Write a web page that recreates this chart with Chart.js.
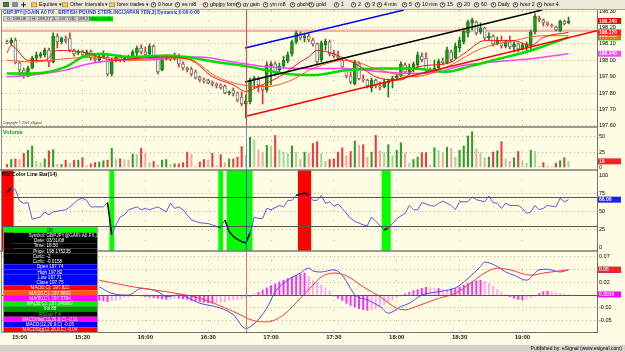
<!DOCTYPE html>
<html>
<head>
<meta charset="utf-8">
<title>GBPJPY 2 min</title>
<script src="https://cdn.jsdelivr.net/npm/chart.js@4.4.1/dist/chart.umd.min.js"></script>
<style>
  html, body { margin: 0; padding: 0; background: #fffde4; overflow: hidden; }
  canvas { display: block; }
</style>
</head>
<body>
<canvas id="chart" width="625" height="352"></canvas>
<script>
// 2 minute bars, the first one at 14:54
const firstBarTime = '14:54';
const barMinutes = 2;
const tickLabels = ['15:00', '15:30', '16:00', '16:30', '17:00', '17:30', '18:00', '18:30', '19:00'];

const opens = [
  198.112, 198.106, 198.124, 197.984, 197.941, 197.904, 197.953, 198.014, 198.026, 198.033,
  198.063, 197.990, 198.148, 198.112, 198.130, 198.136, 198.063, 198.045, 198.051, 198.033,
  198.051, 198.014, 198.002, 198.020, 198.020, 197.917, 198.002, 198.020, 198.002, 198.014,
  198.008, 198.045, 198.075, 198.051, 198.039, 198.087, 198.020, 197.941, 198.008, 198.020,
  198.008, 198.020, 197.978, 197.953, 197.947, 197.929, 197.898, 197.880, 197.880, 197.868,
  197.856, 197.850, 197.843, 197.801, 197.819, 197.801, 197.776, 197.734, 197.746, 197.880,
  197.886, 197.843, 197.819, 197.965, 197.978, 197.941, 197.965, 197.996, 198.039, 198.112,
  198.161, 198.136, 198.148, 198.124, 198.100, 198.002, 198.094, 198.112, 198.039, 198.026,
  198.002, 197.941, 197.904, 197.856, 197.978, 197.886, 197.880, 197.831, 197.880, 197.843,
  197.837, 197.862, 197.874, 197.892, 197.904, 197.972, 197.929, 197.953, 197.972, 198.026,
  198.014, 197.941, 197.935, 197.953, 197.996, 197.984, 198.051, 198.014, 198.075, 198.112,
  198.167, 198.228, 198.234, 198.173, 198.197, 198.136, 198.148, 198.100, 198.124, 198.087,
  198.112, 198.081, 198.100, 198.069, 198.081, 198.094, 198.173, 198.258, 198.246, 198.228,
  198.216, 198.203, 198.179, 198.240, 198.228
];
const highs = [
  198.124, 198.136, 198.136, 197.990, 197.953, 197.965, 198.026, 198.051, 198.051, 198.075,
  198.075, 198.167, 198.161, 198.142, 198.148, 198.167, 198.069, 198.063, 198.063, 198.063,
  198.063, 198.026, 198.033, 198.057, 198.033, 198.014, 198.033, 198.033, 198.026, 198.033,
  198.063, 198.087, 198.094, 198.081, 198.100, 198.094, 198.026, 198.020, 198.033, 198.033,
  198.045, 198.039, 197.990, 197.959, 197.959, 197.941, 197.904, 197.892, 197.886, 197.874,
  197.862, 197.856, 197.850, 197.813, 197.831, 197.807, 197.807, 197.789, 197.892, 197.904,
  197.898, 197.850, 197.990, 197.990, 197.990, 197.984, 198.026, 198.051, 198.124, 198.179,
  198.173, 198.167, 198.161, 198.136, 198.106, 198.118, 198.130, 198.124, 198.063, 198.057,
  198.014, 197.947, 197.929, 198.002, 197.990, 197.911, 197.886, 197.892, 197.886, 197.868,
  197.886, 197.886, 197.904, 197.917, 197.990, 197.984, 197.978, 197.990, 198.051, 198.045,
  198.045, 197.953, 198.002, 198.008, 198.014, 198.081, 198.063, 198.106, 198.142, 198.185,
  198.246, 198.258, 198.240, 198.228, 198.203, 198.167, 198.155, 198.142, 198.148, 198.124,
  198.148, 198.112, 198.106, 198.106, 198.112, 198.185, 198.283, 198.270, 198.252, 198.234,
  198.222, 198.209, 198.246, 198.246, 198.264
];
const lows = [
  198.100, 198.094, 197.978, 197.911, 197.892, 197.898, 197.947, 197.990, 198.014, 198.020,
  197.959, 197.984, 198.075, 198.100, 198.106, 198.051, 198.026, 198.033, 198.026, 198.020,
  198.002, 197.990, 197.990, 198.014, 197.904, 197.904, 197.990, 197.990, 197.990, 197.996,
  198.002, 198.026, 198.039, 198.026, 198.026, 198.002, 197.917, 197.935, 198.002, 197.996,
  198.002, 197.959, 197.941, 197.929, 197.904, 197.886, 197.868, 197.862, 197.856, 197.843,
  197.831, 197.825, 197.795, 197.789, 197.782, 197.746, 197.721, 197.648, 197.734, 197.831,
  197.807, 197.734, 197.807, 197.850, 197.911, 197.923, 197.953, 197.984, 198.026, 198.100,
  198.124, 198.112, 198.112, 198.087, 197.972, 197.990, 198.063, 198.026, 198.014, 198.002,
  197.953, 197.892, 197.856, 197.850, 197.880, 197.868, 197.831, 197.807, 197.831, 197.819,
  197.831, 197.776, 197.831, 197.880, 197.898, 197.917, 197.911, 197.929, 197.953, 197.990,
  197.929, 197.923, 197.923, 197.947, 197.972, 197.978, 197.990, 198.008, 198.051, 198.100,
  198.142, 198.185, 198.155, 198.161, 198.124, 198.124, 198.087, 198.094, 198.075, 198.075,
  198.069, 198.051, 198.051, 198.063, 198.051, 198.069, 198.161, 198.234, 198.209, 198.209,
  198.203, 198.179, 198.173, 198.216, 198.222
];
const closes = [
  198.106, 198.124, 197.984, 197.941, 197.917, 197.953, 198.014, 198.033, 198.039, 198.063,
  197.990, 198.148, 198.112, 198.136, 198.118, 198.063, 198.039, 198.051, 198.033, 198.051,
  198.014, 198.002, 198.020, 198.039, 197.917, 198.002, 198.020, 198.002, 198.014, 198.002,
  198.051, 198.075, 198.051, 198.033, 198.087, 198.014, 197.929, 198.008, 198.020, 198.008,
  198.026, 197.978, 197.953, 197.941, 197.917, 197.892, 197.880, 197.874, 197.862, 197.856,
  197.843, 197.831, 197.801, 197.807, 197.795, 197.758, 197.734, 197.752, 197.880, 197.892,
  197.850, 197.819, 197.972, 197.978, 197.929, 197.965, 198.002, 198.033, 198.112, 198.167,
  198.136, 198.148, 198.124, 198.100, 197.990, 198.106, 198.118, 198.039, 198.026, 198.014,
  197.959, 197.904, 197.868, 197.990, 197.886, 197.880, 197.843, 197.880, 197.843, 197.837,
  197.868, 197.874, 197.892, 197.904, 197.978, 197.929, 197.959, 197.978, 198.033, 198.002,
  197.941, 197.929, 197.953, 197.996, 197.984, 198.063, 198.002, 198.087, 198.124, 198.179,
  198.234, 198.246, 198.167, 198.197, 198.136, 198.148, 198.100, 198.124, 198.087, 198.112,
  198.081, 198.100, 198.069, 198.094, 198.100, 198.173, 198.270, 198.246, 198.228, 198.216,
  198.209, 198.185, 198.240, 198.222, 198.240
];
const volumes = [
  5, 13, 14, 13, 23, 28, 35, 10, 8, 14,
  27, 29, 5, 5, 12, 7, 12, 12, 16, 3,
  6, 8, 9, 11, 12, 31, 13, 14, 13, 12,
  22, 21, 31, 23, 8, 10, 4, 12, 13, 5,
  6, 6, 8, 25, 22, 2, 9, 13, 12, 23,
  3, 21, 8, 14, 14, 17, 34, 20, 49, 45,
  29, 25, 36, 35, 52, 29, 25, 23, 35, 25,
  13, 25, 23, 39, 42, 23, 10, 13, 14, 25,
  32, 19, 26, 43, 36, 37, 17, 25, 52, 27,
  24, 37, 19, 28, 40, 24, 7, 13, 17, 24,
  24, 4, 32, 28, 25, 33, 31, 17, 28, 35,
  51, 58, 30, 24, 16, 17, 25, 27, 42, 14,
  10, 16, 26, 10, 7, 28, 26, 2, 8, 2,
  1, 7, 11, 16, 10
];

// moving averages, read at a few bars each
const ma10Bars = [0, 1, 5, 9, 12, 18, 26, 30, 38, 44, 49, 54, 57, 60, 65, 70, 72, 74, 83, 89, 94, 98, 105, 109, 114, 121, 125, 128, 134];
const ma10 = [198.045, 198.09, 198.00, 198.00, 198.06, 198.05, 198.00, 198.01, 198.02, 198.00, 197.90, 197.85, 197.81, 197.84, 197.90, 197.99, 198.02, 198.06, 197.98, 197.89, 197.88, 197.96, 197.98, 198.04, 198.12, 198.12, 198.09, 198.14, 198.17];
const ma20Bars = [0, 6, 14, 22, 30, 43, 50, 56, 62, 68, 73, 81, 89, 97, 105, 113, 121, 128, 134];
const ma20 = [198.00, 197.99, 198.01, 198.02, 198.00, 198.01, 197.90, 197.85, 197.84, 197.88, 197.95, 198.00, 197.94, 197.90, 197.96, 198.07, 198.12, 198.15, 198.15];
const ma30Bars = [0, 6, 14, 18, 22, 30, 38, 43, 50, 58, 66, 73, 81, 89, 97, 105, 110, 116, 125, 134];
const ma30 = [197.92, 197.92, 197.96, 198.02, 198.04, 198.02, 198.03, 198.02, 197.99, 197.96, 197.92, 197.91, 197.94, 197.95, 197.95, 197.93, 197.96, 198.00, 198.06, 198.14];
const ma50Bars = [0, 6, 14, 18, 22, 34, 43, 46, 54, 62, 70, 73, 81, 89, 97, 103, 109, 116, 125, 134];
const ma50 = [197.90, 197.91, 197.94, 197.97, 197.99, 198.01, 198.02, 198.02, 197.99, 197.96, 197.95, 197.95, 197.95, 197.93, 197.92, 197.93, 197.97, 197.99, 198.01, 198.04];

// drawn trend lines [bar, price] and the horizontal level
const trendRed = [[57.3, 197.660], [140.8, 198.180]];
const trendBlack = [[56.8, 197.868], [127.7, 198.307]];
const trendBlue = [[56.8, 198.075], [94.7, 198.307]];
const levelLine = 198.18;

const rsiBars = [0, 1, 2, 3, 4, 5, 6, 8, 9, 10, 11, 13, 14, 15, 17, 18, 19, 20, 21, 23, 24, 25, 26, 27, 28, 29, 31, 32, 33, 34,
  35, 36, 38, 39, 40, 41, 42, 43, 44, 45, 46, 48, 49, 50, 51, 52, 53, 54, 55, 56, 57, 58, 59, 60, 61, 62, 63, 65, 66, 67,
  68, 69, 71, 72, 73, 74, 75, 76, 77, 78, 79, 80, 82, 83, 85, 86, 87, 88, 90, 91, 92, 93, 95, 96, 97, 98, 99, 101, 102, 103,
  104, 105, 106, 107, 108, 110, 111, 112, 114, 115, 116, 117, 118, 119, 120, 122, 123, 124, 125, 126, 127, 128, 129, 131, 132, 133, 134];
const rsiValues = [76, 82, 80, 64, 61, 62, 39, 42, 49, 45, 49, 51, 52, 56, 66, 68, 65, 56, 56, 56, 62, 17, 31, 42, 45, 52, 56, 52, 54, 52,
  54, 56, 49, 61, 54, 56, 52, 45, 38, 36, 34, 33, 31, 29, 28, 38, 22, 15, 11, 8, 6, 20, 42, 40, 40, 54, 52, 58, 56, 65,
  65, 72, 75, 72, 65, 65, 72, 61, 63, 57, 60, 54, 40, 36, 31, 30, 42, 36, 24, 27, 33, 40, 47, 58, 52, 52, 62, 58, 57, 61,
  64, 61, 58, 52, 63, 63, 70, 66, 63, 71, 62, 61, 54, 61, 58, 58, 54, 47, 49, 58, 52, 54, 58, 56, 68, 63, 66];
const overboughtBars = [-1, 0, 1, 70, 71, 72];
const oversoldBars = [25, 51, 53, 54, 55, 56, 57, 58, 90, 91];

const macdBars = [22, 25, 29, 32, 36, 38, 41, 46, 51, 54, 57, 59, 62, 64, 67, 70, 72, 73, 75, 78, 80, 82, 83, 86, 89, 91, 94, 96, 99, 103,
  107, 110, 113, 114, 117, 119, 121, 124, 127, 129, 132, 134];
const macdLine = [0.015, 0.003, 0.000, 0.012, 0.006, -0.003, 0.000, -0.015, -0.024, -0.036, -0.061, -0.052, -0.024, 0.006, 0.027, 0.040, 0.049, 0.044, 0.042, 0.046,
  0.036, 0.012, 0.000, -0.009, -0.021, -0.033, -0.021, -0.015, 0.000, 0.006, 0.013, 0.030, 0.052, 0.060, 0.052, 0.042, 0.036, 0.027, 0.046, 0.047, 0.042, 0.046];
const signalBars = [22, 30, 38, 46, 54, 59, 62, 66, 70, 73, 75, 78, 81, 85, 89, 93, 95, 98, 103, 107, 111, 114, 117, 120, 125, 128, 134];
const signalLine = [0.027, 0.015, 0.006, -0.006, -0.030, -0.047, -0.049, -0.036, -0.006, 0.018, 0.033, 0.040, 0.035, 0.015, -0.003, -0.024, -0.027, -0.020,
  -0.006, 0.003, 0.024, 0.040, 0.049, 0.046, 0.036, 0.040, 0.046];
const histFirstBar = 22;
const macdHist = [
  -0.010, -0.011, -0.012, -0.010, -0.009, -0.008,
  -0.004, -0.003, -0.002, -0.001, -0.002, -0.003,
  -0.004, -0.005, -0.006, -0.007, -0.008, -0.007, -0.006, -0.006,
  -0.007, -0.008, -0.010, -0.011, -0.012, -0.013, -0.014, -0.015, -0.014,
  -0.013, -0.012, -0.010, -0.009, -0.008, -0.007, -0.006, -0.004,
  0.002, 0.005, 0.009, 0.013, 0.017, 0.020, 0.024, 0.027, 0.030, 0.033, 0.036, 0.038, 0.040,
  0.034, 0.026, 0.022, 0.018, 0.013, 0.008,
  -0.003, -0.006, -0.010, -0.015, -0.019, -0.022, -0.025, -0.027, -0.028, -0.027, -0.025, -0.021, -0.017, -0.013, -0.009, -0.005, -0.002,
  0.002, 0.005, 0.008, 0.010, 0.012, 0.014, 0.013, 0.012, 0.012, 0.011, 0.010, 0.011, 0.012, 0.015, 0.018, 0.021, 0.024, 0.026, 0.027, 0.025, 0.021, 0.016, 0.010, 0.005, 0.001,
  -0.003, -0.006, -0.008, -0.009, -0.008, -0.005, -0.002,
  0.003, 0.006, 0.007, 0.006, 0.004, 0.003, 0.002, 0.001
];

// axis ticks
const priceTicks = [197.6, 197.7, 197.8, 197.9, 198.0, 198.1, 198.2, 198.3];
const volumeTicks = [0, 25, 50];
const rsiTicks = [0, 25, 50, 75, 100];
const macdTicks = [0.07, 0.047, 0.0235, 0, -0.0235, -0.047];
const macdTickLabels = ['0.07', '0.04', '0.02', '0', '-0.02', '-0.05'];

const cursorBar = 57;

const FONT = '"Liberation Sans", Arial, Helvetica, sans-serif';
const CREAM = '#fffde4';

function toMin(t) {
  const [h, m] = t.split(':').map(Number);
  return h * 60 + m;
}
const tickBars = tickLabels.map(t => (toMin(t) - toMin(firstBarTime)) / barMinutes);

const bars = opens.map((_, i) => i);
const up = bars.map(i => closes[i] >= opens[i]);
const xy = (xs, ys) => xs.map((x, k) => ({ x, y: ys[k] }));
const last = a => a[a.length - 1];
const bandSet = new Set([...overboughtBars, ...oversoldBars]);

const volColors = volumes.map((v, i) => {
  const light = i > 0 && v < volumes[i - 1];
  if (up[i]) return light ? '#a3d89d' : '#2f9e2f';
  return light ? '#f6a6a6' : '#ee3b3b';
});
const histColors = macdHist.map((v, k) =>
  (k > 0 && Math.abs(v) < Math.abs(macdHist[k - 1])) ? '#ffa8f0' : '#ff2cff');

const barBase = { type: 'bar', grouped: false, categoryPercentage: 1, barPercentage: 1, borderWidth: 0 };
const lineBase = { type: 'line', pointRadius: 0, borderWidth: 1, fill: false };

function paneAxis(weight, min, max, ticks, fmt, hideGrid) {
  return {
    type: 'linear', position: 'right', stack: 'panes', stackWeight: weight, min, max,
    afterBuildTicks: s => { s.ticks = ticks.map(v => ({ value: v })); },
    afterFit: s => { s.width = 28; },
    ticks: { callback: fmt, font: { family: FONT, size: 5.5 }, color: '#000', padding: 2, autoSkip: false },
    grid: {
      drawTicks: false, lineWidth: 1,
      color: c => (hideGrid || []).includes(c.tick && c.tick.value) ? 'rgba(0,0,0,0)' : '#d2a896'
    },
    border: { display: true, color: '#707070', dash: [1, 3] }
  };
}

function txt(ctx, s, x, y, size, color, opts) {
  opts = opts || {};
  ctx.font = (opts.bold ? 'bold ' : '') + size + 'px ' + FONT;
  ctx.fillStyle = color;
  ctx.textAlign = opts.align || 'left';
  ctx.textBaseline = 'middle';
  ctx.fillText(s, x, y);
}

function fitText(ctx, s, x, y, width, color, bold) {
  ctx.font = (bold ? 'bold ' : '') + '10px ' + FONT;
  const size = 10 * width / ctx.measureText(s).width;
  txt(ctx, s, x, y, size, color, { bold });
}

function tag(ctx, scale, value, text, bg, fg) {
  const y = scale.getPixelForValue(value);
  ctx.fillStyle = bg;
  ctx.fillRect(598, y - 3, 23, 6);
  txt(ctx, text, 599, y + 0.3, 5, fg, { bold: true });
}

const toolbarItems = [
  ['folder', 'Equities \u25BE', 31], ['folder', 'Other Intervals \u25BE', 62], ['folder', 'forex trades \u25BE', 109],
  ['clock', '0 hour', 151], ['clock', 'es m8', 175], ['clock', 'gbpjpy form', 203], ['clock', 'gy gain', 236],
  ['clock', 'ym m8', 263], ['clock', 'gbchf', 290], ['clock', 'gold', 309], ['clock', '1', 334], ['clock', '2', 351],
  ['clock', '3', 365], ['clock', '4 min', 377], ['clock', '5', 402], ['clock', '10 min', 415], ['clock', '15', 440],
  ['clock', '20', 457], ['clock', '60', 474], ['clock', 'Daily', 491], ['clock', 'hour 2', 513], ['clock', 'hour 4', 537]
];

const dataWindow = [
  ['OK', '#00ff00', '#000000'],
  ['Symbol:|GBPJPY@GAIN A0.FX,3', '#000000', '#ffffff'],
  ['Date:|03/31/08', '#000000', '#ffffff'],
  ['Time:|16:50', '#000000', '#ffffff'],
  ['Price:|198.175235', '#000000', '#ffffff'],
  ['Curfc:|-2', '#000000', '#ffffff'],
  ['Curfc:|-0.0158', '#000000', '#ffffff'],
  ['Open 197.74', '#0000ff', '#ffffff'],
  ['High 197.82', '#0000ff', '#ffffff'],
  ['Low 197.71', '#0000ff', '#ffffff'],
  ['Close 197.75', '#0000ff', '#ffffff'],
  ['MA(10,C): 197.821', '#ff0000', '#ffffff'],
  ['MA(20,C): 197.8606', '#ff5a14', '#ffffff'],
  ['MA(50,C): 197.9784', '#ff00ff', '#ffffff'],
  ['MA(30,C): 197.946667', '#00ee00', '#ffffff'],
  ['Vol 88', '#009a00', '#ffffff'],
  ['RSI clr 7.4', '#000000', '#00ff00'],
  ['MACDHist(12,26,9,C) -0.01', '#ff00ff', '#ffffff'],
  ['MACD(12,26,9,C) -0.05', '#0000ff', '#ffffff'],
  ['MACDSig(12,26,9,C) -0.04', '#ff0000', '#ffffff']
];

const panesPlugin = {
  id: 'panes',
  beforeDraw(chart) {
    const { ctx, width, height } = chart;
    ctx.save();
    ctx.fillStyle = CREAM;
    ctx.fillRect(0, 0, width, height);
    ctx.restore();
  },
  afterDatasetsDraw(chart) {
    const { ctx, chartArea: ca } = chart;
    const s = chart.scales;
    const hline = (y, color, w) => {
      ctx.strokeStyle = color; ctx.lineWidth = w;
      ctx.beginPath(); ctx.moveTo(0, y); ctx.lineTo(ca.right, y); ctx.stroke();
    };
    ctx.save();
    [30, 70].forEach(v => {
      const y = Math.round(s.yr.getPixelForValue(v)) + 0.5;
      ctx.strokeStyle = '#555'; ctx.lineWidth = 1;
      ctx.beginPath(); ctx.moveTo(ca.left, y); ctx.lineTo(ca.right, y); ctx.stroke();
    });
    const z = Math.round(s.ym.getPixelForValue(0)) + 0.5;
    ctx.strokeStyle = '#555'; ctx.lineWidth = 1;
    ctx.beginPath(); ctx.moveTo(ca.left, z); ctx.lineTo(ca.right, z); ctx.stroke();

    // crosshair cursor
    const cx = Math.round(s.x.getPixelForValue(cursorBar)) + 0.5;
    [[s.y, '#ff3a3a'], [s.yv, '#6a84ff'], [s.yr, '#3343ff'], [s.ym, '#ff6a6a']].forEach(([sc, col]) => {
      ctx.strokeStyle = col; ctx.lineWidth = 1;
      ctx.beginPath(); ctx.moveTo(cx, sc.top); ctx.lineTo(cx, sc.bottom); ctx.stroke();
    });

    // pane separators and left frame
    [s.y.bottom, s.yv.bottom, s.yr.bottom].forEach(y => hline(y, '#7a7a7a', 1.5));
    ctx.strokeStyle = '#8a8a8a'; ctx.lineWidth = 1;
    ctx.beginPath(); ctx.moveTo(1.5, ca.top); ctx.lineTo(1.5, ca.bottom); ctx.stroke();
    ctx.restore();
  },
  afterDraw(chart) {
    const { ctx } = chart;
    const s = chart.scales;
    ctx.save();

    // pane captions
    fitText(ctx, 'GBPJPY@GAIN A0 FX , BRITISH POUND STERLING/JAPAN YEN,3) Dynamic,0:00-0:00', 3, 12.8, 197, '#1c3ee0', true);
    [['O: 198.08', 3, 30], ['H: 198.27', 30, 53], ['L: 197.72', 53, 73], ['C: 198.23', 73, 90]].forEach(([t, a, b]) => {
      ctx.fillStyle = '#d2d2d2'; ctx.fillRect(a, 16.3, b - a, 5);
      ctx.strokeStyle = '#8c8c8c'; ctx.lineWidth = 0.6; ctx.strokeRect(a + 0.3, 16.5, b - a - 0.6, 4.6);
      txt(ctx, t, (a + b) / 2, 19, 4.3, '#202020', { align: 'center' });
    });
    ctx.fillStyle = '#00e000'; ctx.fillRect(90, 16.3, 23, 5);
    txt(ctx, 'Net + 0.15', 101.5, 19, 4.3, '#003300', { align: 'center' });
    txt(ctx, 'Copyright \u00A9 2007 eSignal', 3, s.y.bottom - 3.5, 3.4, '#333');
    txt(ctx, 'Volume', 3, s.yv.top + 5, 5.6, '#1a9a1a', { bold: true });
    txt(ctx, 'RSI Color Line Bar(14)', 2, s.yr.top + 4.5, 5.2, '#000', { bold: true });

    // last value tags
    tag(ctx, s.y, last(ma50), last(ma50).toFixed(3), '#ff44ff', '#ffffff');
    tag(ctx, s.y, last(ma30), last(ma30).toFixed(3), '#00e000', '#ffffff');
    tag(ctx, s.y, last(ma20), last(ma20).toFixed(3), '#ff6a1a', '#ffffff');
    tag(ctx, s.y, last(ma10), last(ma10).toFixed(3), '#ff2020', '#ffffff');
    tag(ctx, s.y, last(closes), last(closes).toFixed(3), '#ff0000', '#ffffff');
    tag(ctx, s.yv, last(volumes), String(last(volumes)), '#ff2020', '#ffffff');
    tag(ctx, s.yr, last(rsiValues), last(rsiValues).toFixed(2), '#2020ff', '#ffffff');
    tag(ctx, s.ym, last(macdLine), last(macdLine).toFixed(2), '#2020ff', '#ffffff');
    tag(ctx, s.ym, last(signalLine), last(signalLine).toFixed(2), '#ff2020', '#ffffff');
    tag(ctx, s.ym, last(macdHist), last(macdHist).toFixed(4), '#ff00ff', '#ffffff');

    // data window
    const x0 = 3.5, x1 = 97.5, y0 = 227.5, rh = 5.25;
    dataWindow.forEach(([t, bg, fg], k) => {
      const y = y0 + k * rh;
      ctx.fillStyle = bg; ctx.fillRect(x0, y, x1 - x0, rh);
      if (t.includes('|')) {
        const [a, b] = t.split('|');
        txt(ctx, a, 45, y + rh / 2 + 0.2, 4.6, fg, { align: 'right' });
        txt(ctx, b, 46.5, y + rh / 2 + 0.2, 4.6, fg);
      } else {
        txt(ctx, t, 50, y + rh / 2 + 0.2, 4.6, fg, { align: 'center' });
      }
    });
    ctx.strokeStyle = '#9a9a9a'; ctx.lineWidth = 0.8;
    ctx.strokeRect(x0, y0, x1 - x0, rh * dataWindow.length);

    // toolbar
    ctx.fillStyle = '#ece9d8'; ctx.fillRect(0, 0, 625, 9.5);
    ctx.fillStyle = '#a8a498'; ctx.fillRect(0, 9, 625, 1);
    ctx.fillStyle = '#3f8f3f'; ctx.fillRect(3, 2, 6, 5);
    ctx.strokeStyle = '#404040'; ctx.lineWidth = 0.7; ctx.strokeRect(3.5, 2.5, 5, 4);
    ctx.fillStyle = '#7c8ea0'; ctx.fillRect(12, 2, 6, 5);
    ctx.fillStyle = '#202020'; ctx.fillRect(21, 4.3, 5, 1); ctx.fillRect(23, 2.3, 1, 5);
    toolbarItems.forEach(([kind, label, x]) => {
      if (kind === 'folder') {
        ctx.fillStyle = '#f2cf5a'; ctx.fillRect(x, 2.6, 6, 4.4);
        ctx.strokeStyle = '#9a7a20'; ctx.lineWidth = 0.6; ctx.strokeRect(x + 0.3, 2.9, 5.4, 3.9);
        txt(ctx, label, x + 8, 5, 5.2, '#000');
      } else {
        ctx.beginPath(); ctx.arc(x + 2.5, 4.8, 2.3, 0, Math.PI * 2);
        ctx.strokeStyle = '#303030'; ctx.lineWidth = 0.8; ctx.stroke();
        ctx.fillStyle = '#303030'; ctx.fillRect(x + 2.1, 3.3, 0.8, 1.8);
        txt(ctx, label, x + 7, 5, 5.2, '#000');
      }
    });

    // status bar
    ctx.fillStyle = '#d6d3ca'; ctx.fillRect(0, 344, 625, 8);
    ctx.fillStyle = '#ffffff'; ctx.fillRect(0, 344, 625, 0.8);
    ctx.fillStyle = '#9a968c'; ctx.fillRect(540, 345, 0.8, 7);
    txt(ctx, 'Published by: eSignal (www.esignal.com)', 622, 348.5, 5, '#000', { align: 'right' });
    ctx.restore();
  }
};

const ctx = document.getElementById('chart').getContext('2d');
new Chart(ctx, {
  type: 'bar',
  data: {
    datasets: [
      { ...barBase, label: 'RSI high', yAxisID: 'yr', order: 30,
        data: overboughtBars.map(x => ({ x, y: [-5, 107] })), backgroundColor: '#ff0000' },
      { ...barBase, label: 'RSI low', yAxisID: 'yr', order: 30,
        data: oversoldBars.map(x => ({ x, y: [-5, 107] })), backgroundColor: '#00ff00' },
      { ...lineBase, label: 'level', yAxisID: 'y', order: 20,
        data: [{ x: -1.2, y: levelLine }, { x: 140.8, y: levelLine }], borderColor: '#f3b3a3', borderWidth: 2.5 },
      { ...barBase, label: 'wicks', yAxisID: 'y', order: 12, maxBarThickness: 1,
        data: bars.map(i => ({ x: i, y: [lows[i], highs[i]] })),
        backgroundColor: bars.map(i => up[i] ? '#1f7a1f' : '#e03030') },
      { ...barBase, label: 'bodies', yAxisID: 'y', order: 11, maxBarThickness: 3, minBarLength: 1,
        borderWidth: 1, borderSkipped: false,
        data: bars.map(i => ({ x: i, y: [opens[i], closes[i]] })),
        backgroundColor: bars.map(i => up[i] ? '#00b000' : '#ffffff'),
        borderColor: bars.map(i => up[i] ? '#2a6a2a' : '#707070') },
      { ...lineBase, label: 'MA(50)', yAxisID: 'y', order: 6, data: xy(ma50Bars, ma50),
        borderColor: '#ff40ff', borderWidth: 1.5, cubicInterpolationMode: 'monotone' },
      { ...lineBase, label: 'MA(30)', yAxisID: 'y', order: 5, data: xy(ma30Bars, ma30),
        borderColor: '#00dd00', borderWidth: 2.5, cubicInterpolationMode: 'monotone' },
      { ...lineBase, label: 'MA(20)', yAxisID: 'y', order: 4, data: xy(ma20Bars, ma20),
        borderColor: '#ff5a1a', borderWidth: 1, cubicInterpolationMode: 'monotone' },
      { ...lineBase, label: 'MA(10)', yAxisID: 'y', order: 3, data: xy(ma10Bars, ma10),
        borderColor: '#ff1010', borderWidth: 1, cubicInterpolationMode: 'monotone' },
      { ...lineBase, label: 'trend red', yAxisID: 'y', order: 2,
        data: trendRed.map(([x, y]) => ({ x, y })), borderColor: '#ff0000', borderWidth: 1.5 },
      { ...lineBase, label: 'trend black', yAxisID: 'y', order: 2,
        data: trendBlack.map(([x, y]) => ({ x, y })), borderColor: '#000000', borderWidth: 1.5 },
      { ...lineBase, label: 'trend blue', yAxisID: 'y', order: 2,
        data: trendBlue.map(([x, y]) => ({ x, y })), borderColor: '#0000ff', borderWidth: 1.5 },
      { ...barBase, label: 'Volume', yAxisID: 'yv', order: 10, maxBarThickness: 1.4,
        data: volumes.map((v, i) => ({ x: i, y: v })), backgroundColor: volColors },
      { ...lineBase, label: 'RSI', yAxisID: 'yr', order: 1, data: xy(rsiBars, rsiValues),
        borderColor: '#5a5ae8', borderWidth: 1, tension: 0,
        segment: {
          borderColor: c => bandSet.has(Math.round((c.p0.parsed.x + c.p1.parsed.x) / 2)) ? '#000000' : undefined,
          borderWidth: c => bandSet.has(Math.round((c.p0.parsed.x + c.p1.parsed.x) / 2)) ? 1.5 : undefined
        } },
      { ...barBase, label: 'MACD hist', yAxisID: 'ym', order: 10, maxBarThickness: 1.3,
        data: macdHist.map((v, k) => ({ x: histFirstBar + k, y: v })), backgroundColor: histColors },
      { ...lineBase, label: 'MACD', yAxisID: 'ym', order: 2, data: xy(macdBars, macdLine),
        borderColor: '#4a4aff', borderWidth: 1, cubicInterpolationMode: 'monotone' },
      { ...lineBase, label: 'Signal', yAxisID: 'ym', order: 1, data: xy(signalBars, signalLine),
        borderColor: '#ff3a3a', borderWidth: 1, cubicInterpolationMode: 'monotone' }
    ]
  },
  options: {
    responsive: false,
    animation: false,
    events: [],
    layout: { padding: { left: 2, top: 10, right: 0, bottom: 8 } },
    plugins: { legend: { display: false }, tooltip: { enabled: false } },
    scales: {
      x: {
        type: 'linear', min: -1.2, max: 140.8, offset: false,
        afterBuildTicks: s => { s.ticks = tickBars.map(v => ({ value: v })); },
        afterFit: s => { s.height = 12; },
        ticks: { callback: (v, i) => tickLabels[i], font: { family: FONT, size: 6, weight: 'bold' },
          color: '#202020', padding: 2, maxRotation: 0, autoSkip: false },
        grid: { color: '#d2a896', drawTicks: false, offset: false },
        border: { display: true, color: '#707070', dash: [1, 9] }
      },
      y: paneAxis(117, 197.593, 198.307, priceTicks, v => v.toFixed(2)),
      yv: paneAxis(43, -4, 65.7, volumeTicks, v => String(v), [0]),
      yr: paneAxis(81, -5, 107, rsiTicks, v => String(v), [0, 100]),
      ym: paneAxis(81, -0.0674, 0.0802, macdTicks, (v, i) => macdTickLabels[i], [0])
    }
  },
  plugins: [panesPlugin]
});
</script>
</body>
</html>
